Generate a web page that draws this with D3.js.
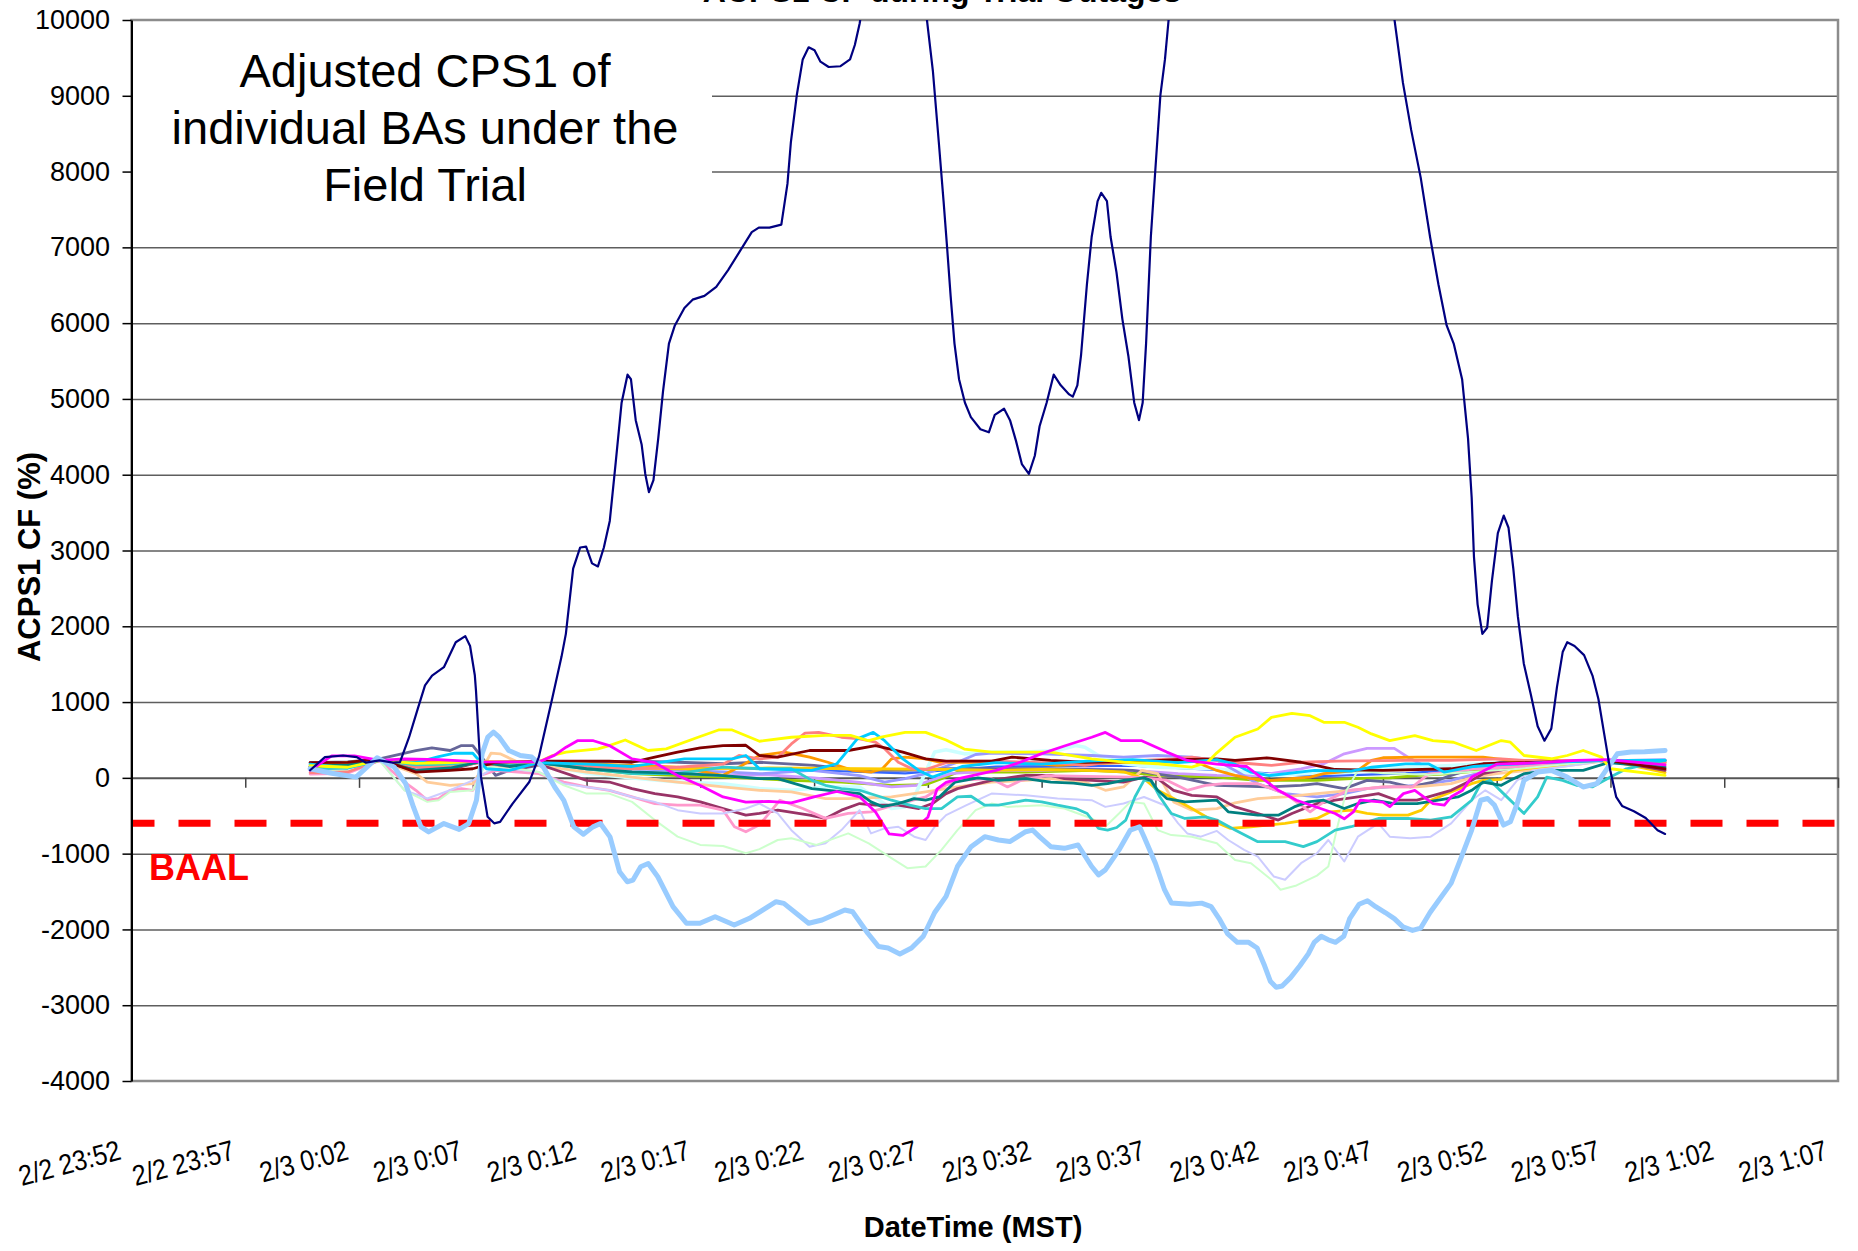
<!DOCTYPE html>
<html>
<head>
<meta charset="utf-8">
<script src="https://cdn.jsdelivr.net/npm/d3@7"></script>
<style>
  body { margin: 0; background: #fff; }
  svg { display: block; font-family: Arial, "Liberation Sans", sans-serif; }
</style>
</head>
<body>
<svg width="1858" height="1251"></svg>
<script>
// time is in minutes after 2/3 0:00 (MST)
const tickMinutes = [-8, -3, 2, 7, 12, 17, 22, 27, 32, 37, 42, 47, 52, 57, 62, 67];
const tickLabels = ["2/2 23:52", "2/2 23:57", "2/3 0:02", "2/3 0:07", "2/3 0:12", "2/3 0:17",
  "2/3 0:22", "2/3 0:27", "2/3 0:32", "2/3 0:37", "2/3 0:42", "2/3 0:47", "2/3 0:52",
  "2/3 0:57", "2/3 1:02", "2/3 1:07"];
const yTickValues = [-4000, -3000, -2000, -1000, 0, 1000, 2000, 3000, 4000, 5000, 6000, 7000, 8000, 9000, 10000];
const yTickLabels = ["-4000", "-3000", "-2000", "-1000", "0", "1000", "2000", "3000", "4000", "5000", "6000", "7000", "8000", "9000", "10000"];

// BAAL limit line
const baalTimes = [-8, 67];
const baalValue = -600;

// [minute, ACPS1 CF %]
const baNavy = [[-0.15,100],[0.5,273],[1.3,295],[1.9,273],[2.3,200],[2.9,230],[3.5,200],[3.8,208],[4.2,536],[4.6,930],[4.9,1220],[5.21,1350],[5.73,1460],[6.25,1790],[6.67,1870],[6.88,1740],[7.09,1350],[7.14,1150],[7.36,11],[7.65,-514],[7.94,-600],[8.2,-580],[8.75,-339],[9.48,-55],[9.9,273],[10.5,1060],[10.9,1600],[11.09,1900],[11.41,2760],[11.72,3040],[11.98,3050],[12.24,2830],[12.5,2790],[12.76,3040],[13.02,3390],[13.28,4160],[13.54,4950],[13.8,5320],[13.95,5260],[14.16,4720],[14.42,4400],[14.58,4010],[14.74,3770],[14.94,3930],[15.15,4480],[15.36,5100],[15.62,5730],[15.88,5970],[16.3,6200],[16.66,6310],[17.18,6360],[17.7,6480],[18.22,6700],[18.74,6950],[19.26,7200],[19.57,7260],[20.04,7260],[20.56,7300],[20.83,7840],[20.98,8390],[21.24,9010],[21.5,9480],[21.76,9640],[22.02,9600],[22.28,9450],[22.64,9380],[23.16,9390],[23.58,9480],[23.79,9670],[24.0,9950],[24.3,10500],[25.5,11000],[26.7,10500],[26.96,10000],[27.22,9330],[27.48,8390],[27.69,7610],[27.85,6980],[28.0,6360],[28.17,5730],[28.37,5260],[28.63,4950],[28.89,4760],[29.31,4600],[29.68,4560],[29.94,4790],[30.35,4870],[30.61,4720],[30.87,4450],[31.13,4140],[31.44,4010],[31.7,4250],[31.91,4640],[32.22,4950],[32.53,5320],[32.84,5180],[33.21,5060],[33.37,5030],[33.57,5180],[33.73,5570],[33.99,6510],[34.2,7140],[34.46,7610],[34.62,7720],[34.87,7610],[35.03,7140],[35.29,6670],[35.55,6050],[35.81,5570],[36.07,4950],[36.28,4720],[36.44,4950],[36.59,5730],[36.8,7140],[37.01,8080],[37.22,9010],[37.42,9480],[37.58,10000],[37.8,10700],[40,13000],[45,13000],[47.2,10600],[47.51,10000],[47.88,9170],[48.24,8550],[48.66,7920],[49.07,7140],[49.44,6510],[49.8,5970],[50.11,5730],[50.48,5260],[50.74,4480],[50.9,3700],[51.0,2920],[51.16,2290],[51.37,1900],[51.58,1980],[51.79,2600],[52.05,3230],[52.31,3460],[52.52,3300],[52.73,2760],[52.93,2130],[53.19,1510],[53.5,1100],[53.8,680],[54.1,490],[54.4,650],[54.65,1200],[54.9,1660],[55.1,1790],[55.42,1740],[55.84,1620],[56.21,1350],[56.47,1040],[56.73,570],[56.99,100],[57.25,-250],[57.51,-370],[58.03,-440],[58.55,-530],[59.07,-690],[59.4,-740]];

const baPaleBlue = [[-0.15,120],[0.8,60],[1.87,10],[2.79,265],[3.55,142],[4.05,-77],[4.39,-384],[4.72,-647],[5.06,-713],[5.73,-603],[6.4,-680],[6.82,-603],[7.16,-296],[7.41,318],[7.66,537],[7.91,603],[8.16,537],[8.58,362],[9.09,296],[9.59,274],[10.1,142],[10.6,-121],[11.0,-296],[11.44,-647],[11.86,-744],[12.28,-647],[12.61,-603],[13.03,-779],[13.45,-1239],[13.79,-1371],[14.04,-1349],[14.38,-1173],[14.71,-1130],[15.13,-1305],[15.8,-1700],[16.39,-1919],[16.98,-1919],[17.65,-1832],[18.49,-1941],[19.16,-1853],[20.33,-1634],[20.67,-1656],[21.76,-1919],[22.35,-1875],[23.35,-1744],[23.69,-1766],[24.36,-2050],[24.83,-2226],[25.25,-2245],[25.77,-2323],[26.28,-2245],[26.8,-2090],[27.3,-1777],[27.8,-1564],[28.3,-1170],[28.9,-908],[29.5,-776],[30.1,-820],[30.6,-840],[31.3,-711],[31.6,-689],[31.9,-776],[32.4,-908],[33,-930],[33.6,-886],[34.2,-1170],[34.5,-1280],[34.8,-1214],[35.4,-951],[35.9,-689],[36.3,-645],[36.5,-776],[37,-1126],[37.4,-1476],[37.7,-1651],[38.5,-1668],[39.03,-1653],[39.45,-1700],[39.8,-1857],[40.18,-2060],[40.6,-2170],[41.1,-2170],[41.47,-2245],[41.8,-2480],[42.05,-2683],[42.31,-2762],[42.57,-2746],[42.94,-2636],[43.35,-2480],[43.72,-2323],[43.98,-2170],[44.29,-2090],[44.6,-2137],[44.92,-2170],[45.28,-2090],[45.54,-1857],[45.95,-1668],[46.32,-1622],[46.68,-1700],[47.1,-1777],[47.5,-1857],[47.88,-1966],[48.3,-2013],[48.66,-1982],[49.07,-1777],[49.44,-1622],[50,-1389],[50.4,-1083],[50.9,-689],[51.3,-295],[51.6,-273],[51.9,-360],[52.3,-623],[52.6,-580],[52.9,-339],[53.2,-33],[53.8,77],[54.4,98],[55.1,10],[55.8,-120],[56.4,-77],[56.9,142],[57.3,317],[57.9,340],[58.5,345],[59.4,361]];

const baMagenta = [[-0.15,100],[0.8,290],[1.8,290],[2.9,230],[4,250],[5.5,240],[7.3,210],[8.6,210],[9.9,210],[10.6,300],[11.1,405],[11.6,490],[12.3,490],[13,426],[14,250],[15,200],[16,30],[17,-100],[18,-252],[19,-320],[20,-310],[21,-330],[22,-250],[23,-180],[24,-250],[24.7,-450],[25.3,-740],[25.9,-760],[26.5,-650],[27,-520],[27.4,-150],[27.8,-60],[28.5,0],[30,98],[31,200],[32,320],[33,420],[34.2,536],[34.8,600],[35.5,490],[36.4,490],[37.5,340],[38.4,230],[39.7,180],[41,150],[42.4,-164],[43.2,-295],[44.9,-470],[45.3,-540],[45.7,-450],[46,-295],[47,-320],[47.3,-380],[47.9,-208],[48.4,-164],[49.2,-340],[49.7,-360],[50,-250],[50.5,-164],[50.9,10],[52,180],[54,200],[55.5,230],[56.9,240],[59.4,170]];

const baYellow = [[-0.15,160],[1.5,140],[2.9,230],[4.5,190],[6,200],[7.3,220],[8.6,210],[9.9,208],[10.5,295],[11.1,340],[12.5,383],[13,426],[13.7,500],[14.7,361],[15.5,383],[16.9,536],[17.8,632],[18.4,632],[19.6,483],[21,536],[22.5,560],[23.6,560],[24.4,490],[25,540],[26,600],[26.9,600],[27.8,500],[28.6,380],[29.8,340],[32.4,340],[34.2,250],[35.6,208],[37.1,186],[38.6,142],[39.3,208],[39.7,330],[40.5,536],[41.5,645],[42.1,798],[43,851],[43.8,820],[44.4,733],[45.3,733],[45.9,667],[46.5,580],[47.3,492],[48.4,558],[49.2,492],[50.1,470],[51.1,361],[52.2,492],[52.6,470],[53.2,295],[54.4,252],[55.1,295],[55.8,361],[56.6,273],[57,120],[59.4,33]];

const baSky = [[-0.15,180],[1.5,130],[2.9,230],[4.5,200],[5.5,280],[6.2,325],[7,325],[7.6,120],[8.6,100],[9.9,200],[12,180],[14,150],[16.3,250],[18.4,250],[19,295],[19.6,120],[21.9,100],[23,186],[23.9,514],[24.6,600],[25.1,490],[25.9,250],[26.6,98],[27.2,10],[28.5,150],[30,200],[32,180],[34,220],[36,240],[38,200],[39.7,240],[40.5,180],[41.2,75],[42,30],[44,100],[45.6,90],[46.5,140],[48,185],[49,185],[49.7,75],[51,150],[52,170],[54,200],[56.9,230],[59.4,230]];

const baMaroon = [[-0.15,200],[1.5,205],[2.9,250],[4.5,75],[6,100],[7,120],[8,206],[9.9,220],[13,220],[14,206],[15,273],[16,340],[17,395],[18,426],[19,430],[19.6,295],[20.4,273],[21.8,361],[23.5,361],[24.7,426],[25.9,340],[26.9,250],[27.8,220],[29.8,220],[30.7,273],[32.4,230],[33.9,206],[36,215],[38,240],[39.7,250],[40.5,230],[41.9,265],[43.4,206],[44.9,110],[47,100],[50,120],[50.7,150],[51.4,186],[53,200],[56.9,230],[59.4,120]];

const baTeal = [[-0.15,150],[1.5,170],[2.9,230],[4.5,100],[6,130],[7.3,210],[8.6,150],[9.9,200],[12,120],[14,80],[16,60],[18,30],[19.6,-11],[20.4,-11],[21.9,-142],[24,-208],[24.5,-317],[25,-380],[25.7,-339],[26.4,-273],[26.9,-295],[27.5,-252],[28.2,-55],[29.2,0],[30.1,-33],[31.3,-11],[32.4,-55],[33.4,-70],[34.2,-98],[34.9,-77],[35.6,-33],[36.5,0],[36.8,-33],[37.1,-164],[37.5,-273],[38.3,-317],[39.7,-295],[40.2,-448],[41.5,-492],[42.4,-492],[43.1,-383],[43.7,-317],[44.4,-295],[45.3,-405],[45.9,-339],[46.6,-295],[47.5,-339],[48.5,-339],[50.3,-252],[50.9,-164],[51.4,-55],[52.2,-98],[52.6,-33],[53.2,55],[54.4,98],[55.8,98],[56.9,200],[59.4,140]];

const baAqua = [[-0.15,120],[1.5,130],[2.9,230],[4.5,170],[6,180],[7.3,210],[8.6,170],[9.9,200],[12,120],[14,55],[16,55],[18,142],[19.6,120],[21,120],[21.9,-33],[22.5,-98],[23.2,-142],[24,-164],[25.4,-295],[26.2,-361],[26.9,-405],[27.6,-405],[28.3,-252],[28.9,-243],[29.5,-361],[30.1,-361],[31.3,-295],[32,-317],[32.7,-361],[33.5,-405],[34,-470],[34.5,-667],[34.9,-689],[35.3,-655],[35.7,-557],[36.1,-252],[36.5,-33],[36.8,-33],[37.2,-252],[37.7,-470],[38.3,-536],[39.2,-514],[39.7,-557],[40.5,-689],[41.5,-842],[42.7,-842],[43.5,-908],[44.1,-842],[44.9,-689],[45.6,-645],[46.8,-536],[48.1,-536],[49.1,-557],[50,-514],[50.9,-295],[51.3,-77],[51.7,-33],[52.3,-208],[53.2,-470],[53.8,-252],[54.2,10],[54.9,-33],[55.5,-98],[56.2,-120],[57,10],[57.7,120],[59.4,230]];

const baCoral = [[-0.15,70],[1.5,77],[2.9,230],[4.5,142],[6,142],[7.3,200],[8.6,150],[9.9,200],[12,150],[14,120],[16,140],[18,180],[18.7,295],[19.6,250],[20.4,273],[21,448],[21.6,590],[22.2,600],[23.2,536],[24,515],[24.7,470],[25.1,383],[25.7,206],[26.3,120],[26.9,110],[27.7,190],[28,220],[29.8,220],[31.3,206],[32.7,195],[33.9,164],[34.9,206],[36.4,230],[37.8,250],[38.6,273],[39.7,230],[41.2,186],[42.1,164],[43.4,206],[45,220],[48,230],[50,230],[52.2,250],[53.2,230],[56.9,230],[59.4,200]];

const baLtGreen = [[-0.15,77],[1.5,98],[2.9,230],[4,-164],[5,-317],[5.5,-295],[6,-186],[7,-164],[7.5,142],[8.2,142],[9,120],[9.9,77],[11,-98],[12,-208],[13,-208],[14,-317],[15,-557],[16,-776],[17,-885],[18,-900],[19,-995],[19.6,-940],[20.4,-820],[21,-798],[22.1,-885],[23.5,-733],[24.4,-864],[25.4,-1060],[26.1,-1192],[26.9,-1170],[27.6,-951],[28.3,-689],[29.1,-426],[29.8,-339],[30.5,-383],[32,-360],[33,-405],[34.2,-536],[34.8,-645],[35.4,-470],[35.9,-317],[36.5,-339],[37.1,-689],[37.7,-755],[38.6,-776],[39.7,-864],[40.5,-1083],[41.2,-1126],[42.1,-1345],[42.5,-1476],[43.2,-1420],[44.1,-1290],[44.6,-1170],[45,-645],[45.4,-164],[45.9,98],[47,60],[49,40],[51,80],[53,120],[55,180],[56.9,230],[59.4,150]];

const baLtLavender = [[-0.15,100],[1.5,120],[2.9,230],[4,-164],[5,-273],[6,-164],[7,-33],[8,142],[9.9,77],[11,-77],[12,-120],[13,-164],[14,-252],[15,-317],[16,-426],[17,-470],[18,-470],[19,-405],[19.6,-339],[20.4,-470],[21,-690],[21.8,-908],[22.5,-864],[23.2,-689],[24,-426],[24.5,-733],[25.1,-667],[25.7,-645],[26.4,-776],[26.9,-820],[27.3,-645],[27.8,-492],[28.7,-361],[29.8,-208],[31.3,-230],[32.7,-273],[34.2,-295],[34.8,-383],[35.6,-339],[36.5,-252],[37.4,-361],[38,-601],[38.4,-733],[39,-776],[39.7,-700],[40.2,-820],[40.9,-951],[41.5,-1039],[42.2,-1301],[42.7,-1345],[43.4,-1126],[44.1,-995],[44.6,-820],[45.3,-1104],[45.9,-776],[46.8,-601],[47.3,-776],[48.2,-798],[49.1,-776],[50,-601],[50.9,-295],[51.5,-164],[52.2,-295],[52.9,-33],[53.6,98],[55,150],[56.9,230],[59.4,200]];

const baRose = [[-0.15,50],[1.5,60],[2.9,230],[4,-55],[4.5,-164],[5,-295],[5.5,-273],[6,-164],[6.5,-142],[7,-164],[7.3,30],[8,98],[9.9,55],[11,-55],[12,-120],[13,-164],[14,-252],[15,-339],[16,-361],[17,-361],[18,-426],[18.5,-645],[19,-711],[19.6,-620],[20.5,-295],[21.5,-405],[22.5,-535],[23.5,-470],[24.5,-450],[25.5,-360],[26.9,-252],[27.6,-120],[28.3,-33],[29.8,-11],[30.5,-120],[31.1,-33],[32.2,30],[34,20],[36,10],[37.5,-30],[38.4,-164],[39.2,-98],[40,-77],[41.5,-77],[42.7,-208],[43.8,-448],[44.4,-317],[45.5,-164],[47,-120],[48.3,-120],[49,50],[49.9,75],[51,120],[53,150],[56.9,230],[59.4,180]];

const baPlum = [[-0.15,140],[1.5,150],[2.9,230],[4.5,98],[6,110],[7.3,210],[8.6,98],[9.9,180],[12,-33],[13,-55],[14,-142],[15,-208],[16,-252],[17,-317],[18,-405],[19,-492],[19.6,-470],[20.4,-426],[21.8,-492],[22.5,-535],[23.2,-426],[24,-339],[24.7,-360],[25.7,-360],[26.6,-405],[27.2,-339],[27.8,-208],[28.3,-142],[29.8,-33],[31.3,33],[32.4,33],[33,-11],[34.2,-33],[35.6,-55],[36.5,10],[37.1,-11],[37.8,-164],[38.6,-230],[39.7,-252],[40.5,-383],[41.5,-470],[42.4,-557],[43,-470],[44.1,-339],[44.9,-295],[45.9,-252],[46.8,-208],[47.6,-295],[48.5,-295],[50,-164],[50.9,-33],[51.4,55],[53,150],[56.9,230],[59.4,100]];

const baGold = [[-0.15,150],[1.5,200],[2.9,230],[4.5,150],[6,180],[7.3,200],[8.6,98],[9.9,200],[12,150],[16,120],[20,130],[24,120],[28,110],[30,100],[32,110],[34,98],[35.6,80],[36.5,-11],[37.1,-164],[37.8,-273],[38.6,-405],[39.6,-580],[40.3,-667],[41.2,-645],[42.7,-601],[44.1,-536],[44.7,-448],[45.6,-426],[46.3,-470],[47,-492],[48.1,-492],[48.7,-426],[49.1,-295],[50,-186],[50.9,-77],[51.4,-33],[52.2,-20],[52.7,98],[54,150],[56.9,230],[59.4,70]];

const baTan = [[-0.15,120],[1.5,120],[2.9,230],[4.5,55],[5,-55],[6,-98],[7,-77],[7.5,164],[7.8,325],[8.2,317],[9,206],[9.9,164],[12,77],[14,10],[16,-55],[18,-120],[19.6,-164],[21,-186],[22.5,-273],[23.5,-273],[25.4,-252],[26.9,-186],[28.3,-120],[29.8,-55],[31.3,-33],[32.4,-10],[33.9,-55],[34.8,-164],[35.6,-120],[36.4,98],[37.1,55],[37.8,-317],[38.6,-426],[39.7,-405],[40.5,-330],[41.5,-273],[42.7,-250],[44.1,-208],[45.6,-164],[47,-120],[48.5,-120],[50,-77],[51,10],[52,55],[54,120],[56.9,230],[59.4,150]];

const baOrange = [[-0.15,150],[1.5,200],[2.9,230],[4.5,220],[6,220],[7.3,210],[9.9,200],[12,186],[14,164],[16,142],[18,33],[18.7,142],[19.6,295],[20.7,340],[21.8,273],[22.6,206],[23.7,98],[24.5,75],[25,120],[25.4,250],[26,273],[26.9,250],[27.5,206],[29.8,206],[31.3,195],[32.7,164],[34.2,186],[35.7,206],[37.1,206],[38.6,230],[39.7,98],[40.5,33],[41.2,-11],[42.1,-33],[43,-11],[43.8,10],[44.4,55],[45.9,98],[46.5,230],[47,265],[48.5,273],[51.4,273],[52.6,230],[54.4,206],[56.9,220],[59.4,200]];

const baSlate = [[-0.15,200],[1.5,210],[2.9,250],[4.5,360],[5.2,395],[6,361],[6.5,426],[7,426],[7.5,230],[8,33],[8.6,98],[9.9,164],[12,206],[14,220],[16,206],[18,186],[19.6,206],[22,164],[24,98],[26,98],[28,120],[30,120],[32,120],[34,110],[36,98],[38,10],[39.7,-98],[41.9,-120],[43.4,-98],[44.1,-77],[45.3,-142],[46.3,-33],[47.3,-55],[48.2,-120],[49.2,-55],[50,33],[51.1,142],[52.2,206],[54,230],[56.9,230],[59.4,230]];

const baPeriwinkle = [[-0.15,170],[1.5,180],[2.9,240],[4.5,180],[6,200],[7.3,210],[9.9,200],[12,150],[14,120],[16,100],[18,80],[19.6,55],[21.9,98],[24,30],[25.1,-55],[26,-11],[26.9,55],[28.3,206],[29.1,308],[29.8,326],[32,317],[34.2,295],[35.6,273],[37.1,295],[38.6,273],[39.7,230],[40.5,98],[41.5,-77],[42.7,-208],[44.1,-252],[45.3,-208],[46.3,-142],[47.3,-120],[48.5,-98],[50,-33],[51.4,75],[52.9,164],[54.4,186],[56.9,230],[59.4,230]];

const baLtCyan = [[-0.15,130],[1.5,130],[2.9,230],[4.5,150],[6,150],[7.3,210],[9.9,200],[12,60],[14,0],[16,-55],[18,-77],[19.6,-142],[21,-164],[22.5,-120],[24,-120],[25.4,-405],[26,-383],[26.4,-252],[27.3,340],[27.8,370],[28.6,317],[29.8,340],[31.3,340],[32.7,361],[33.5,426],[33.9,405],[34.5,295],[35.6,186],[37.1,142],[39.7,120],[42.1,33],[44,60],[45.6,75],[46.6,120],[48.5,142],[50,164],[52,200],[54,210],[56.9,230],[59.4,220]];

const baLavender = [[-0.15,150],[1.5,160],[2.9,230],[4.5,120],[6,150],[7.3,200],[9.9,190],[12,120],[14,80],[16,60],[18,30],[20,40],[22,0],[24,-60],[25.4,-120],[26.5,-98],[28,55],[30,98],[32,98],[34,120],[36,98],[38,55],[39.7,33],[41.5,30],[43.4,120],[44.4,186],[45.3,317],[46.3,390],[47.5,390],[48.1,273],[48.8,160],[50,98],[52,150],[54,200],[56.9,230],[59.4,230]];

const baLime = [[-0.15,120],[1.5,150],[2.9,230],[4.5,150],[6,170],[7.3,210],[9.9,200],[12,120],[14,55],[16,30],[18,10],[19.6,-11],[21,-33],[23.2,-55],[25.4,-98],[26.9,-90],[27.6,-11],[28.3,75],[31.3,75],[34.2,98],[35.7,75],[37.1,33],[39.7,10],[41.5,-33],[44.1,-33],[45.6,-11],[47.3,0],[48.6,33],[50,55],[51.4,98],[53,150],[56.9,230],[59.4,220]];

const baBlue = [[-0.15,160],[2.9,230],[6,190],[7.3,210],[9.9,200],[14,150],[20,120],[26,60],[30,150],[36,160],[40,100],[44,20],[48,60],[52,150],[56.9,230],[59.4,240]];

// drawing order and line styles
const seriesList = [
  { data: baBlue, color: '#3366FF', w: 2.2 },
  { data: baLime, color: '#99CC00', w: 2.8 },
  { data: baLavender, color: '#CC99FF', w: 2.8 },
  { data: baLtCyan, color: '#CCFFFF', w: 3.6 },
  { data: baPeriwinkle, color: '#9999FF', w: 2.8 },
  { data: baSlate, color: '#666699', w: 2.8 },
  { data: baOrange, color: '#FF9900', w: 2.8 },
  { data: baTan, color: '#FFCC99', w: 2.8 },
  { data: baGold, color: '#FFCC00', w: 2.8 },
  { data: baPlum, color: '#993366', w: 2.8 },
  { data: baRose, color: '#FF99CC', w: 2.8 },
  { data: baLtLavender, color: '#CCCCFF', w: 2 },
  { data: baLtGreen, color: '#CCFFCC', w: 2 },
  { data: baCoral, color: '#FF8080', w: 2.8 },
  { data: baAqua, color: '#33CCCC', w: 2.8 },
  { data: baTeal, color: '#008080', w: 2.8 },
  { data: baMaroon, color: '#800000', w: 2.8 },
  { data: baSky, color: '#00CCFF', w: 2.8 },
  { data: baYellow, color: '#FFFF00', w: 2.8 },
  { data: baMagenta, color: '#FF00FF', w: 2.8 }
];

const svg = d3.select('svg');
const width = +svg.attr('width');
const height = +svg.attr('height');

const plot = { left: 131.5, right: 1838, top: 20, bottom: 1081 };

const xScale = d3.scaleLinear().domain([-8, 67]).range([plot.left, plot.right]);
const yScale = d3.scaleLinear().domain([-4000, 10000]).range([plot.bottom, plot.top]);

svg.append('rect').attr('width', width).attr('height', height).attr('fill', '#fff');

svg.append('defs').append('clipPath').attr('id', 'plotClip')
  .append('rect')
  .attr('x', plot.left).attr('y', plot.top)
  .attr('width', plot.right - plot.left).attr('height', plot.bottom - plot.top);

// chart title, cut off by the top edge as in the source
svg.append('text')
  .attr('x', 942).attr('y', 2)
  .attr('text-anchor', 'middle')
  .attr('font-size', 32).attr('font-weight', 'bold')
  .text('ACPS1 CF during Trial Outages');

// horizontal gridlines
const gridValues = yTickValues.filter(v => v !== -4000 && v !== 0 && v !== 10000);
svg.append('g')
  .attr('transform', `translate(${plot.left},0)`)
  .call(d3.axisLeft(yScale).tickValues(gridValues).tickSize(-(plot.right - plot.left)).tickFormat(''))
  .call(g => g.select('.domain').remove())
  .call(g => g.selectAll('line').attr('stroke', '#5e5e5e').attr('stroke-width', 1.5));

// white box behind the annotation
svg.append('rect')
  .attr('x', plot.left + 1).attr('y', plot.top + 2)
  .attr('width', 711 - plot.left).attr('height', 205)
  .attr('fill', '#fff');

// plot border
svg.append('rect')
  .attr('x', plot.left).attr('y', plot.top)
  .attr('width', plot.right - plot.left).attr('height', plot.bottom - plot.top)
  .attr('fill', 'none').attr('stroke', '#8c8c8c').attr('stroke-width', 2.5);

// x axis crossing at 0
svg.append('g')
  .attr('transform', `translate(0,${yScale(0)})`)
  .call(d3.axisBottom(xScale).tickValues(tickMinutes).tickSize(10).tickSizeOuter(0).tickFormat(''))
  .call(g => g.select('.domain').attr('stroke', '#555').attr('stroke-width', 2))
  .call(g => g.selectAll('.tick line').attr('stroke', '#444').attr('stroke-width', 1.5));

// series
const line = d3.line()
  .x(d => xScale(d[0]))
  .y(d => yScale(d[1]));

const lines = svg.append('g').attr('clip-path', 'url(#plotClip)')
  .attr('fill', 'none').attr('stroke-linejoin', 'round').attr('stroke-linecap', 'round');

seriesList.forEach(s => {
  lines.append('path')
    .attr('d', line(s.data))
    .attr('stroke', s.color)
    .attr('stroke-width', s.w);
});

// BAAL
lines.append('path')
  .attr('d', line(baalTimes.map(t => [t, baalValue])))
  .attr('stroke', '#FF0000')
  .attr('stroke-width', 7)
  .attr('stroke-linecap', 'butt')
  .attr('stroke-dasharray', '32,24')
  .attr('stroke-dashoffset', 9);

lines.append('path')
  .attr('d', line(baPaleBlue))
  .attr('stroke', '#99CCFF')
  .attr('stroke-width', 5);

lines.append('path')
  .attr('d', line(baNavy))
  .attr('stroke', '#000080')
  .attr('stroke-width', 2.2);

// y axis
svg.append('g')
  .attr('transform', `translate(${plot.left},0)`)
  .call(d3.axisLeft(yScale).tickValues(yTickValues).tickSize(9).tickSizeOuter(0).tickPadding(12.5)
    .tickFormat((d, i) => yTickLabels[i]))
  .call(g => g.select('.domain').attr('stroke', '#000').attr('stroke-width', 2))
  .call(g => g.selectAll('.tick line').attr('stroke', '#000').attr('stroke-width', 1.5))
  .call(g => g.selectAll('text').attr('font-size', 27).attr('fill', '#000')
    .attr('font-family', 'Arial, "Liberation Sans", sans-serif'));

// x tick labels, rotated
svg.append('g').selectAll('text')
  .data(tickMinutes)
  .enter()
  .append('text')
  .attr('transform', d => `translate(${xScale(d) - 9},1159) rotate(-15) scale(1,1.14)`)
  .attr('text-anchor', 'end')
  .attr('font-size', 25)
  .text((d, i) => tickLabels[i]);

// axis titles
svg.append('text')
  .attr('x', 973).attr('y', 1237)
  .attr('text-anchor', 'middle')
  .attr('font-size', 29).attr('font-weight', 'bold')
  .text('DateTime (MST)');

svg.append('text')
  .attr('transform', 'translate(40,557) rotate(-90)')
  .attr('text-anchor', 'middle')
  .attr('font-size', 31).attr('font-weight', 'bold')
  .text('ACPS1 CF (%)');

// annotation
const note = ['Adjusted CPS1 of', 'individual BAs under the', 'Field Trial'];
svg.append('g').selectAll('text')
  .data(note)
  .enter()
  .append('text')
  .attr('x', 425)
  .attr('y', (d, i) => 87 + i * 57)
  .attr('text-anchor', 'middle')
  .attr('font-size', 47)
  .text(d => d);

svg.append('text')
  .attr('x', 149).attr('y', 880)
  .attr('font-size', 36).attr('font-weight', 'bold')
  .attr('fill', '#FF0000')
  .text('BAAL');
</script>
</body>
</html>
